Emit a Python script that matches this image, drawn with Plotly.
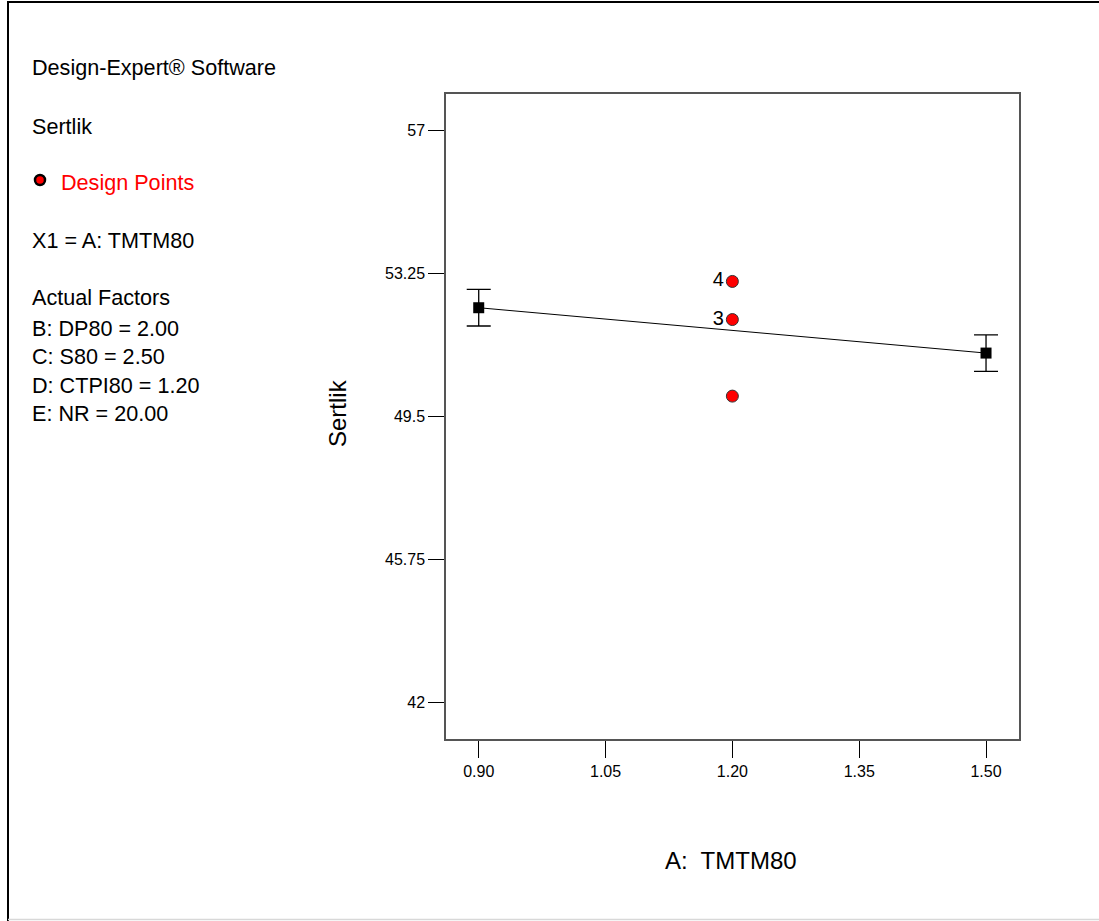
import plotly.graph_objects as go

# ---- data ----
A_levels = [0.90, 1.50]
pred_sertlik = [52.35, 51.16]
pred_err = [0.48, 0.48]

design_x = [1.20, 1.20, 1.20]
design_y = [53.04, 52.04, 50.03]
design_counts = ["4", "3", ""]

x_ticks = [0.90, 1.05, 1.20, 1.35, 1.50]
x_ticklabels = ["0.90", "1.05", "1.20", "1.35", "1.50"]
y_ticks = [42, 45.75, 49.5, 53.25, 57]
y_ticklabels = ["42", "45.75", "49.5", "53.25", "57"]

info_lines = [
    ("Design-Expert® Software", "black", 67),
    ("Sertlik", "black", 126),
    ("Design Points", "red", 182),
    ("X1 = A: TMTM80", "black", 240),
    ("Actual Factors", "black", 297),
    ("B: DP80 = 2.00", "black", 328),
    ("C: S80 = 2.50", "black", 356),
    ("D: CTPI80 = 1.20", "black", 385),
    ("E: NR = 20.00", "black", 413),
]

FONT = "Arial, Liberation Sans, sans-serif"
W, H = 1099, 921
L, R, T, B = 446, 80, 94, 182
PW, PH = W - L - R, H - T - B


def px_to_paper_x(px):
    return (px - L) / PW


def px_to_paper_y(py):
    return (H - B - py) / PH


fig = go.Figure()

fig.add_trace(go.Scatter(
    x=A_levels, y=pred_sertlik,
    mode="lines+markers",
    line=dict(color="black", width=1),
    marker=dict(symbol="square", size=11, color="black"),
    error_y=dict(type="data", array=pred_err, visible=True,
                 color="black", thickness=1.3, width=12),
    showlegend=False, hoverinfo="skip",
))

fig.add_trace(go.Scatter(
    x=design_x, y=design_y,
    mode="markers+text",
    text=design_counts,
    textposition="middle left",
    textfont=dict(family=FONT, size=20, color="black"),
    marker=dict(symbol="circle", size=12, color="#ff0000",
                line=dict(color="#333333", width=1)),
    showlegend=False, hoverinfo="skip",
))

fig.update_xaxes(
    range=[0.8613, 1.539],
    tickvals=x_ticks, ticktext=x_ticklabels,
    ticks="outside", ticklen=17, tickwidth=1, tickcolor="black",
    showline=True, linecolor="#555555", linewidth=1.5, mirror=True,
    showgrid=False, zeroline=False,
    tickfont=dict(family=FONT, size=16, color="black"),
)
fig.update_yaxes(
    range=[41.03, 57.96],
    tickvals=y_ticks, ticktext=y_ticklabels,
    ticks="outside", ticklen=16, tickwidth=1, tickcolor="black",
    showline=True, linecolor="#555555", linewidth=1.5, mirror=True,
    showgrid=False, zeroline=False,
    tickfont=dict(family=FONT, size=16, color="black"),
)

annotations = []
for text, color, ypx in info_lines:
    xpx = 59 if text == "Design Points" else 30
    annotations.append(dict(
        text=text, xref="paper", yref="paper",
        x=px_to_paper_x(xpx), y=px_to_paper_y(ypx),
        xanchor="left", yanchor="middle", showarrow=False,
        font=dict(family=FONT, size=21.6, color=color),
    ))

annotations.append(dict(
    text="Sertlik", xref="paper", yref="paper",
    x=px_to_paper_x(337), y=px_to_paper_y(413),
    xanchor="center", yanchor="middle", textangle=-90, showarrow=False,
    font=dict(family=FONT, size=24, color="black"),
))
annotations.append(dict(
    text="A:  TMTM80", xref="paper", yref="paper",
    x=px_to_paper_x(731), y=px_to_paper_y(860),
    xanchor="center", yanchor="middle", showarrow=False,
    font=dict(family=FONT, size=24, color="black"),
))

shapes = [
    # legend icon for design points
    dict(type="circle", xref="paper", yref="paper",
         x0=px_to_paper_x(35), x1=px_to_paper_x(45),
         y0=px_to_paper_y(185), y1=px_to_paper_y(175),
         fillcolor="#ff0000", line=dict(color="black", width=2.5)),
    # outer frame
    dict(type="line", xref="paper", yref="paper",
         x0=px_to_paper_x(8), x1=px_to_paper_x(8),
         y0=px_to_paper_y(1), y1=px_to_paper_y(921),
         line=dict(color="black", width=2)),
    dict(type="line", xref="paper", yref="paper",
         x0=px_to_paper_x(7), x1=px_to_paper_x(1099),
         y0=px_to_paper_y(2), y1=px_to_paper_y(2),
         line=dict(color="black", width=2)),
    dict(type="line", xref="paper", yref="paper",
         x0=px_to_paper_x(8), x1=px_to_paper_x(1099),
         y0=px_to_paper_y(919.5), y1=px_to_paper_y(919.5),
         line=dict(color="#d8d8d8", width=1.5)),
]

fig.update_layout(
    width=W, height=H,
    margin=dict(l=L, r=R, t=T, b=B, pad=0),
    paper_bgcolor="white", plot_bgcolor="white",
    annotations=annotations, shapes=shapes,
    showlegend=False,
)

fig.write_html(
    "out.html",
    config={"displayModeBar": False},
    post_script="document.body.style.margin='0';document.body.style.overflow='hidden';",
)
